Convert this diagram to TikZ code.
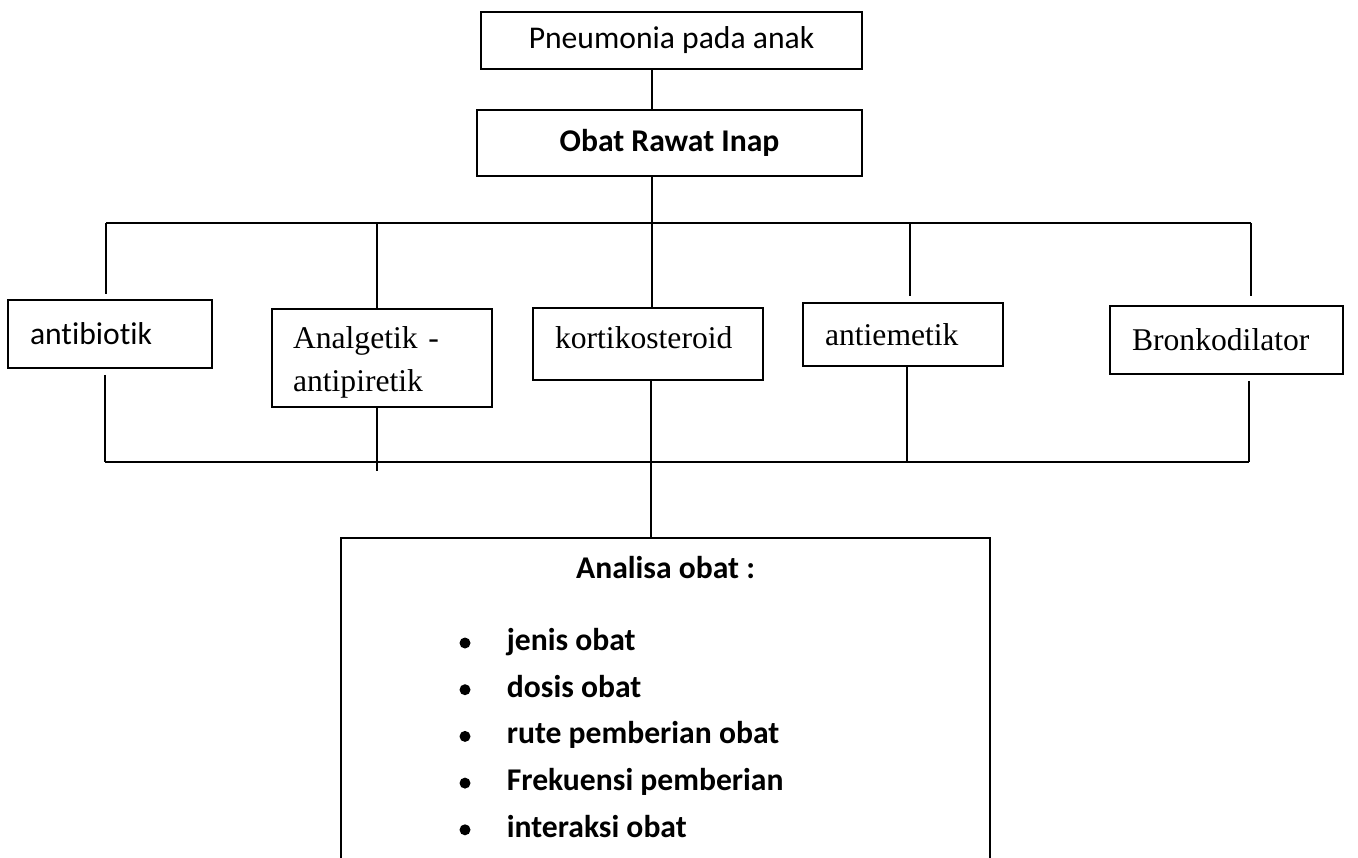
\documentclass[tikz,border=0pt]{standalone}
\usepackage{fontspec}
\setmainfont{Liberation Serif}
\newfontfamily\calib[Ligatures=NoCommon]{Carlito}

\tikzset{
  obatbox/.style={draw, rectangle, line width=0.9pt, inner sep=0pt, align=left, font=\fontsize{18}{25}\selectfont},
  calbox/.style={obatbox, font=\calib\fontsize{18}{25}\selectfont},
  listitem/.style={inner sep=0pt, font=\calib\bfseries\fontsize{18}{25}\selectfont},
}

\begin{document}
\begin{tikzpicture}[line width=1pt]
  \useasboundingbox (0,0) rectangle (27.16,-17.14);
  \node[calbox, align=center, minimum width=7.62cm, minimum height=1.14cm] (pneu) at (13.43,-0.81) {Pneumonia pada anak};
  \node[calbox, align=center, minimum width=7.70cm, minimum height=1.32cm, font=\calib\bfseries\fontsize{18}{25}\selectfont] (obat) at (13.39,-2.86) {Obat Rawat Inap};
  \node[calbox, minimum width=4.08cm, minimum height=1.36cm, text width=3.20cm] (anti) at (2.20,-6.68) {antibiotik};
  \node[obatbox, minimum width=4.40cm, text width=3.56cm, text height=0.78cm, text depth=1.18cm] (analg) at (7.64,-7.16) {Analgetik -\\antipiretik};
  \node[obatbox, minimum width=4.60cm, text width=3.72cm, text height=0.80cm, text depth=0.64cm] (korti) at (12.96,-6.88) {kortikosteroid};
  \node[obatbox, minimum width=4.00cm, minimum height=1.26cm, text width=3.12cm] (emet) at (18.06,-6.69) {antiemetik};
  \node[obatbox, minimum width=4.66cm, minimum height=1.36cm, text width=3.78cm] (bronk) at (24.53,-6.80) {Bronkodilator};
  \node[draw, line width=0.9pt, inner sep=0pt, minimum width=12.98cm, minimum height=6.84cm] (analisa) at (13.31,-14.18) {};
  \node[listitem, anchor=base] (judul) at (13.31,-11.56) {Analisa obat :};
  \foreach \txt [count=\i] in {jenis obat, dosis obat, rute pemberian obat, Frekuensi pemberian, interaksi obat} {
    \node[listitem, anchor=base west] (butir\i) at (10.12,{-13.01-0.934*(\i-1)}) {\txt};
    \fill (9.30,{-12.86-0.934*(\i-1)}) circle (0.11cm);
  }
  % Draw the upper branch
  \coordinate (t1) at (2.12,-4.46);
  \coordinate (t2) at (7.54,-4.46);
  \coordinate (hub) at (13.04,-4.46);
  \coordinate (t4) at (18.20,-4.46);
  \coordinate (t5) at (25.02,-4.46);
  \draw (pneu.south -| hub) -- (obat.north -| hub);
  \draw (obat.south -| hub) -- (hub);
  \draw (t1) -- (t5);
  \draw (t1) -- ([yshift=0.10cm]anti.north -| t1);
  \draw (t2) -- (analg.north -| t2);
  \draw (hub) -- (korti.north -| hub);
  \draw (t4) -- ([yshift=0.12cm]emet.north -| t4);
  \draw (t5) -- ([yshift=0.18cm]bronk.north -| t5);
  % Draw the lower branch
  \coordinate (b1) at (2.10,-9.24);
  \coordinate (b2) at (7.54,-9.24);
  \coordinate (b3) at (13.02,-9.24);
  \coordinate (b4) at (18.14,-9.24);
  \coordinate (b5) at (24.98,-9.24);
  \draw (b1) -- (b5);
  \draw ([yshift=-0.12cm]anti.south -| b1) -- (b1);
  \draw (analg.south -| b2) -- ([yshift=-0.18cm]b2);
  \draw (korti.south -| b3) -- (analisa.north -| b3);
  \draw (emet.south -| b4) -- (b4);
  \draw ([yshift=-0.12cm]bronk.south -| b5) -- (b5);
\end{tikzpicture}
\end{document}
